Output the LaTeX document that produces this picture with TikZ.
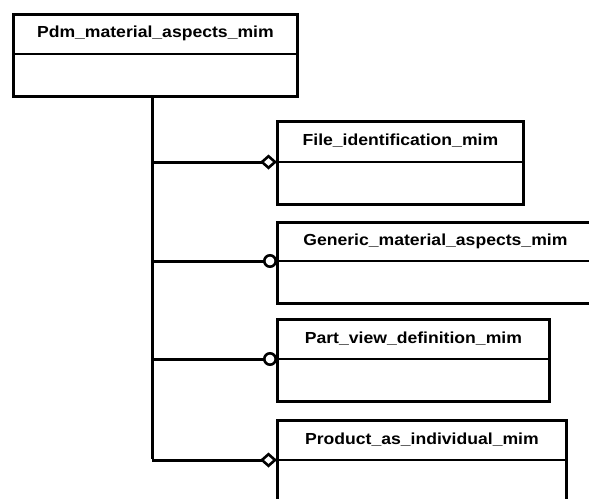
\documentclass[tikz,border=0pt]{standalone}
\usepackage{fontspec}
\newfontfamily\umlfont{Liberation Sans}[FakeStretch=1.1]
\usetikzlibrary{arrows.meta}

\tikzset{
  umlbox/.style={draw, line width=2.8pt, inner sep=0pt, anchor=north west},
  umltitle/.style={font=\umlfont\bfseries\fontsize{16}{18}\selectfont, inner sep=0pt},
  divider/.style={line width=2pt},
  link/.style={line width=3pt},
  agg/.style={-{Diamond[open, length=17pt, width=15pt, line width=2.6pt]}},
  opt/.style={-{Circle[open, length=14pt, line width=2.6pt]}},
}

\begin{document}
\begin{tikzpicture}[x=1pt, y=-1pt]
  \useasboundingbox (0,0) rectangle (589,498);
  \fill[white] (0,0) rectangle (589,498);
  \begin{scope}
  \clip (0,0) rectangle (589,498);

  % top schema
  \node[umlbox, minimum width=284pt, minimum height=82pt] (pdm) at (12,13) {};
  \node[umltitle] (pdm-t) at ([yshift=-20.5pt]pdm.north) {Pdm\_material\_aspects\_mim};
  \draw[divider] ([yshift=-41pt]pdm.north west) -- ([yshift=-41pt]pdm.north east);

  % referenced schemas
  \node[umlbox, minimum width=246pt, minimum height=83pt] (file) at (276,120) {};
  \node[umltitle] (file-t) at ([yshift=-21pt]file.north) {File\_identification\_mim};
  \coordinate (file-w) at ([yshift=-42pt]file.north west);
  \draw[divider] (file-w) -- ([yshift=-42pt]file.north east);

  \node[umlbox, minimum width=316pt, minimum height=81pt] (gen) at (276,221) {};
  \node[umltitle] (gen-t) at ([yshift=-20pt]gen.north) {Generic\_material\_aspects\_mim};
  \coordinate (gen-w) at ([yshift=-40pt]gen.north west);
  \draw[divider] (gen-w) -- ([yshift=-40pt]gen.north east);

  \node[umlbox, minimum width=272pt, minimum height=82pt] (part) at (276,318) {};
  \node[umltitle] (part-t) at ([yshift=-20.5pt]part.north) {Part\_view\_definition\_mim};
  \coordinate (part-w) at ([yshift=-41pt]part.north west);
  \draw[divider] (part-w) -- ([yshift=-41pt]part.north east);

  \node[umlbox, minimum width=289pt, minimum height=83pt] (prod) at (276,419) {};
  \node[umltitle] (prod-t) at ([yshift=-20.5pt]prod.north) {Product\_as\_individual\_mim};
  \coordinate (prod-w) at ([yshift=-41pt]prod.north west);
  \draw[divider] (prod-w) -- ([yshift=-41pt]prod.north east);

  % bus
  \coordinate (bus) at ([xshift=-3pt]pdm.south);
  \draw[link] (bus) -- ([yshift=1.5pt]bus |- prod-w);
  \draw[link, agg] (bus |- file-w) -- ([xshift=1pt]file-w);
  \draw[link, opt] (bus |- gen-w) -- ([xshift=1pt]gen-w);
  \draw[link, opt] (bus |- part-w) -- ([xshift=1pt]part-w);
  \draw[link, agg] (bus |- prod-w) -- ([xshift=1pt]prod-w);
  \end{scope}
\end{tikzpicture}
\end{document}
